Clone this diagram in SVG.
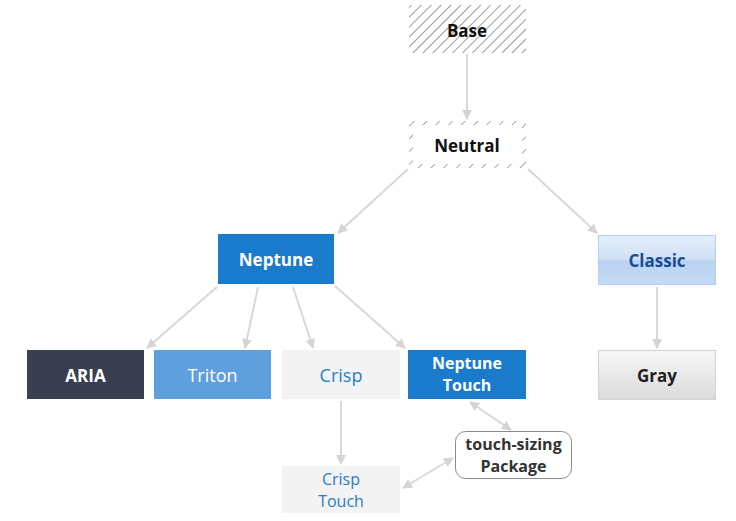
<svg xmlns="http://www.w3.org/2000/svg" width="736" height="521" viewBox="0 0 736 521">
<defs>
<pattern id="hatch" patternUnits="userSpaceOnUse" width="7" height="7" patternTransform="rotate(45)">
<rect width="7" height="7" fill="#fff"/>
<line x1="0" y1="0" x2="0" y2="7" stroke="#9a9a9a" stroke-width="2"/>
</pattern>
<pattern id="hatch2" patternUnits="userSpaceOnUse" width="9" height="9" patternTransform="rotate(45)">
<rect width="9" height="9" fill="#fff"/>
<line x1="0" y1="0" x2="0" y2="9" stroke="#a8a8a8" stroke-width="2"/>
</pattern>
<linearGradient id="gClassic" x1="0" y1="0" x2="0" y2="1">
<stop offset="0" stop-color="#e3eefb"/>
<stop offset="0.5" stop-color="#cfe0f6"/>
<stop offset="0.5" stop-color="#b9d3f2"/>
<stop offset="1" stop-color="#c4daf4"/>
</linearGradient>
<linearGradient id="gGray" x1="0" y1="0" x2="0" y2="1">
<stop offset="0" stop-color="#f7f7f7"/>
<stop offset="1" stop-color="#dadada"/>
</linearGradient>
<marker id="arr" viewBox="0 0 10 10" refX="9" refY="5" markerWidth="5" markerHeight="5" orient="auto-start-reverse">
<path d="M0,0 L10,5 L0,10 z" fill="#d4d4d4"/>
</marker>
<style>
.t{font-family:"Open Sans","Liberation Sans",sans-serif;font-size:17px;text-anchor:middle;dominant-baseline:central}
.b{font-weight:bold}
.r{font-size:18px}
.s{font-size:16px}
.c{stroke:#d8d8d8;stroke-width:2;fill:none;marker-end:url(#arr)}
.cc{stroke:#d8d8d8;stroke-width:2;fill:none;marker-end:url(#arr);marker-start:url(#arr)}
</style>
</defs>
<rect width="736" height="521" fill="#fff"/>
<g id="connectors">
<line class="c" x1="467" y1="54" x2="467" y2="119"/>
<line class="c" x1="408" y1="169" x2="338" y2="233"/>
<line class="c" x1="528" y1="169" x2="597" y2="233"/>
<line class="c" x1="217" y1="287" x2="147" y2="348"/>
<line class="c" x1="258" y1="287" x2="245" y2="348"/>
<line class="c" x1="293" y1="287" x2="313" y2="348"/>
<line class="c" x1="335" y1="286" x2="405" y2="348"/>
<line class="c" x1="657" y1="287" x2="657" y2="348"/>
<line class="c" x1="341" y1="401" x2="341" y2="464"/>
<line class="cc" x1="470" y1="402" x2="511" y2="430"/>
<line class="cc" x1="403" y1="488" x2="453" y2="458"/>
</g>
<g id="base">
<rect x="409" y="5" width="117" height="48" fill="url(#hatch)"/>
<text class="t b" x="467" y="30" fill="#111">Base</text>
</g>
<g id="neutral">
<rect x="409" y="121" width="117" height="47" fill="#fff"/>
<rect x="411" y="123" width="113" height="43" fill="none" stroke="url(#hatch2)" stroke-width="4"/>
<text class="t b" x="467" y="145" fill="#111">Neutral</text>
</g>
<g id="neptune">
<rect x="218" y="234" width="116" height="50" fill="#1a7acb"/>
<text class="t b" x="276" y="259" fill="#fff">Neptune</text>
</g>
<g id="classic">
<rect x="598.5" y="235.5" width="117" height="49" fill="url(#gClassic)" stroke="#b4cff0"/>
<text class="t b" x="657" y="260" fill="#1c4b95">Classic</text>
</g>
<g id="aria">
<rect x="27" y="350" width="117" height="49" fill="#393f51"/>
<text class="t b" x="85.5" y="375" fill="#fff">ARIA</text>
</g>
<g id="triton">
<rect x="154" y="350" width="117" height="49" fill="#5e9fdd"/>
<text class="t r" x="212.5" y="375" fill="#fff">Triton</text>
</g>
<g id="crisp">
<rect x="282" y="350" width="118" height="49" fill="#f3f3f3"/>
<text class="t r" x="341" y="375" fill="#2a7cc8">Crisp</text>
</g>
<g id="neptune-touch">
<rect x="408" y="350" width="118" height="49" fill="#1a7acb"/>
<text class="t b s" x="467" y="363" fill="#fff">Neptune</text>
<text class="t b s" x="467" y="385" fill="#fff">Touch</text>
</g>
<g id="gray">
<rect x="598.5" y="350.5" width="117" height="49" fill="url(#gGray)" stroke="#d2d2d2"/>
<text class="t b" x="657" y="375" fill="#222">Gray</text>
</g>
<g id="crisp-touch">
<rect x="282" y="466" width="118" height="47" fill="#f3f3f3"/>
<text class="t s" x="341" y="479" fill="#2a7cc8">Crisp</text>
<text class="t s" x="341" y="501" fill="#2a7cc8">Touch</text>
</g>
<g id="touch-sizing">
<rect x="455.5" y="431.5" width="116" height="47" rx="10" fill="#fff" stroke="#8a8a8a"/>
<text class="t b s" x="513.5" y="444" fill="#333">touch-sizing</text>
<text class="t b s" x="513.5" y="466" fill="#333">Package</text>
</g>
</svg>
